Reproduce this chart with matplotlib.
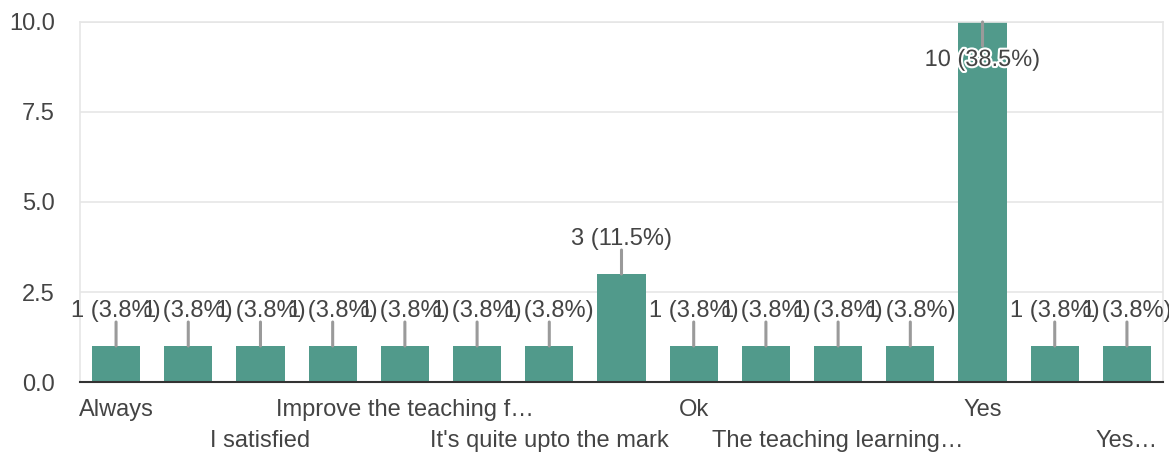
import matplotlib.pyplot as plt
import matplotlib.patheffects as pe

# response counts per answer (odd-position labels are hidden in the original)
labels = ["Always", "", "I satisfied", "", "Improve the teaching f…", "",
          "It's quite upto the mark", "", "Ok", "", "The teaching learning…", "",
          "Yes", "", "Yes…"]
counts = [1, 1, 1, 1, 1, 1, 1, 3, 1, 1, 1, 1, 10, 1, 1]
yticks = [0.0, 2.5, 5.0, 7.5, 10.0]

total = sum(counts)
bar_color = "#519a8b"
text_color = "#444444"

plt.rcParams['font.family'] = ['Liberation Sans', 'DejaVu Sans']

fig = plt.figure(figsize=(11.69, 4.57), dpi=100)
ax = fig.add_axes([0.0684, 0.1641, 0.9265, 0.7878])

x = list(range(len(counts)))
ax.bar(x, counts, width=0.667, color=bar_color, zorder=2)

ax.set_xlim(-0.5, len(counts) - 0.5)
ax.set_ylim(0, 10)
ax.set_yticks(yticks)
ax.set_yticklabels([f"{v:.1f}" for v in yticks])
ax.tick_params(axis='y', length=0, pad=18, labelsize=17, labelcolor=text_color)
ax.set_xticks([])
ax.grid(axis='y', color='#e6e6e6', linewidth=1.2, zorder=0)

for side in ['left', 'right', 'top']:
    ax.spines[side].set_color('#e6e6e6')
    ax.spines[side].set_linewidth(1.2)
ax.spines['bottom'].set_color('#333333')
ax.spines['bottom'].set_linewidth(1.5)
ax.spines['bottom'].set_zorder(3)

# value labels with short leader lines
for i, c in enumerate(counts):
    txt = f"{c} ({c / total * 100:.1f}%)"
    if c >= 10:
        # tallest bar: label sits inside, below the top
        ax.annotate(txt, xy=(i, c), xytext=(0, -38), textcoords='offset pixels',
                    ha='center', va='center', fontsize=17, color=text_color, zorder=5,
                    path_effects=[pe.withStroke(linewidth=3, foreground='#ffffff')],
                    annotation_clip=False)
        ax.annotate("", xy=(i, c), xytext=(0, -24), textcoords='offset pixels',
                    arrowprops=dict(arrowstyle='-', color='#9a9a9a', lw=2.2,
                                    shrinkA=0, shrinkB=0), zorder=4)
    else:
        ax.annotate("", xy=(i, c), xytext=(0, 24), textcoords='offset pixels',
                    arrowprops=dict(arrowstyle='-', color='#9a9a9a', lw=2.2,
                                    shrinkA=0, shrinkB=0), zorder=4)
        ax.annotate(txt, xy=(i, c), xytext=(0, 35), textcoords='offset pixels',
                    ha='center', va='center', fontsize=17, color=text_color, zorder=5,
                    annotation_clip=False)

# staggered category labels
for i, lab in enumerate(labels):
    if not lab:
        continue
    off = -28 if i % 4 == 0 else -59
    ax.annotate(lab, xy=(i, 0), xytext=(0, off), textcoords='offset pixels',
                ha='center', va='center', fontsize=17, color=text_color,
                annotation_clip=False)

fig.savefig("out.png", dpi=100)
